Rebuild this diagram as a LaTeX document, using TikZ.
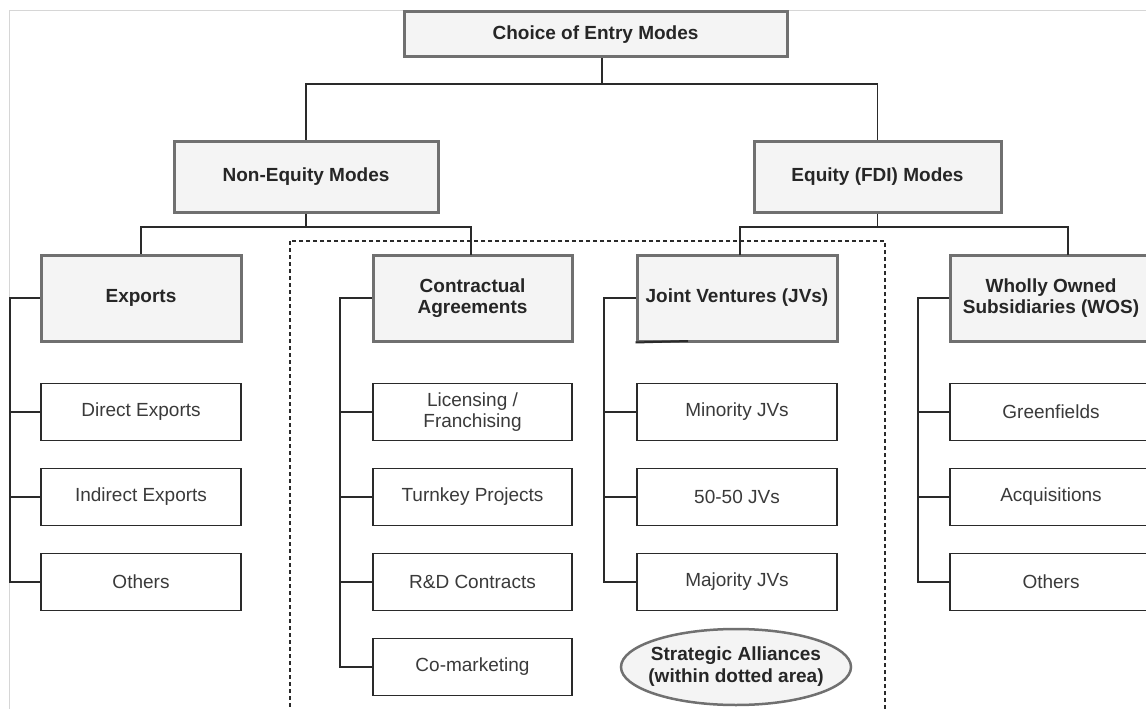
\documentclass[tikz,border=0pt]{standalone}
\usepackage{fontspec}
\setmainfont{Liberation Sans}
\usetikzlibrary{shapes.geometric}
\definecolor{hdrfill}{HTML}{F4F4F4}
\definecolor{hdrline}{HTML}{707070}
\definecolor{hdrtxt}{HTML}{262626}
\definecolor{leaftxt}{HTML}{3A3A3A}
\definecolor{framegray}{HTML}{D6D6D6}
\definecolor{linec}{HTML}{2A2A2A}
\begin{document}
\begin{tikzpicture}[x=1pt,y=-1pt,
  hdr/.style={draw=hdrline, line width=3pt, fill=hdrfill, text=hdrtxt, align=center, inner sep=0pt,
    font=\fontsize{19}{21}\selectfont\bfseries},
  leaf/.style={draw=linec, line width=1.5pt, fill=white, text=leaftxt, align=center, inner sep=0pt,
    minimum width=200pt, minimum height=57pt, font=\fontsize{19}{21}\selectfont},
  conn/.style={draw=linec, line width=1.6pt},
  frame/.style={draw=framegray, line width=1pt},
  dotbox/.style={draw=linec, line width=1.3pt, dash pattern=on 4pt off 3pt},
]
\useasboundingbox (0,0) rectangle (1146,709);
\clip (0,0) rectangle (1146,709);
\fill[white] (0,0) rectangle (1146,709);

% light frame
\coordinate (fa) at (9,11);
\coordinate (fb) at (1150,11);
\coordinate (fc) at (9,715);
\draw[frame] (fc) -- (fa) -- (fb);

% dotted area
\coordinate (d1) at (290,241);
\coordinate (d2) at (885,720);
\draw[dotbox] (d1) rectangle (d2);

% level 0
\node[hdr, minimum width=383pt, minimum height=45pt] (root) at (595.5,34.5) {Choice of Entry Modes};

% level 1
\node[hdr, minimum width=264pt, minimum height=71pt] (noneq) at (306,176.5) {Non-Equity Modes};
\node[hdr, minimum width=247pt, minimum height=71pt] (eq) at (877.5,176.5) {Equity (FDI) Modes};

% level 2
\node[hdr, minimum width=200pt, minimum height=86pt] (exp) at (141,298) {Exports};
\node[hdr, minimum width=199pt, minimum height=86pt] (con) at (472.5,298) {Contractual\\Agreements};
\node[hdr, minimum width=200pt, minimum height=86pt] (jv) at (737,298) {Joint Ventures (JVs)};
\node[hdr, minimum width=202pt, minimum height=86pt] (wos) at (1051,298) {Wholly Owned\\Subsidiaries (WOS)};

% leaves
\node[leaf] (e1) at (141,412) {Direct Exports};
\node[leaf] (e2) at (141,497) {Indirect Exports};
\node[leaf] (e3) at (141,582) {Others};

\node[leaf, minimum width=199pt] (c1) at (472.5,412) {Licensing /\\Franchising};
\node[leaf, minimum width=199pt] (c2) at (472.5,497) {Turnkey Projects};
\node[leaf, minimum width=199pt] (c3) at (472.5,582) {R\&D Contracts};
\node[leaf, minimum width=199pt] (c4) at (472.5,667) {Co-marketing};

\node[leaf] (j1) at (737,412) {Minority JVs};
\node[leaf] (j2) at (737,497) {50-50 JVs};
\node[leaf] (j3) at (737,582) {Majority JVs};

\node[leaf, minimum width=202pt] (w1) at (1051,412) {Greenfields};
\node[leaf, minimum width=202pt] (w2) at (1051,497) {Acquisitions};
\node[leaf, minimum width=202pt] (w3) at (1051,582) {Others};

% strategic alliances ellipse
\node[ellipse, draw=hdrline, line width=2.5pt, fill=hdrfill, minimum width=230pt, minimum height=76pt, inner sep=0pt] (sa) at (736,667) {};
\node[text=hdrtxt, align=center, inner sep=0pt, font=\fontsize{19}{22}\selectfont\bfseries] (satext) at (sa.center) {Strategic Alliances\\(within dotted area)};

% connectors level 0 -> 1
\coordinate (k0) at (602,84);
\draw[conn] (k0 |- root.south) -- (k0);
\draw[conn] (noneq.north) |- (k0) -| (eq.north);

% level 1 -> 2
\coordinate (k1) at (306,227);
\draw[conn] (noneq.south) -- (k1);
\coordinate (conin) at (471,255);
\draw[conn] (exp.north) |- (k1) -| (conin);

\coordinate (k2) at (877.5,227);
\draw[conn] (eq.south) -- (k2);
\coordinate (jvin) at (740,255);
\coordinate (wosin) at (1068,255);
\draw[conn] (jvin) |- (k2) -| (wosin);

% brackets
\coordinate (be) at (10,0);
\draw[conn] (exp.west) -- (exp.west -| be) -- (e3.west -| be) -- (e3.west);
\draw[conn] (e1.west) -- (e1.west -| be);
\draw[conn] (e2.west) -- (e2.west -| be);

\coordinate (bc) at (340,0);
\draw[conn] (con.west) -- (con.west -| bc) -- (c4.west -| bc) -- (c4.west);
\draw[conn] (c1.west) -- (c1.west -| bc);
\draw[conn] (c2.west) -- (c2.west -| bc);
\draw[conn] (c3.west) -- (c3.west -| bc);

\coordinate (bj) at (604,0);
\draw[conn] (jv.west) -- (jv.west -| bj) -- (j3.west -| bj) -- (j3.west);
\draw[conn] (j1.west) -- (j1.west -| bj);
\draw[conn] (j2.west) -- (j2.west -| bj);

\coordinate (bw) at (918,0);
\draw[conn] (wos.west) -- (wos.west -| bw) -- (w3.west -| bw) -- (w3.west);
\draw[conn] (w1.west) -- (w1.west -| bw);
\draw[conn] (w2.west) -- (w2.west -| bw);

% small dark mark on JV bottom edge
\coordinate (jvmark) at (688,341);
\draw[draw=linec, line width=2pt] (jv.south west) -- (jvmark);
\end{tikzpicture}
\end{document}
